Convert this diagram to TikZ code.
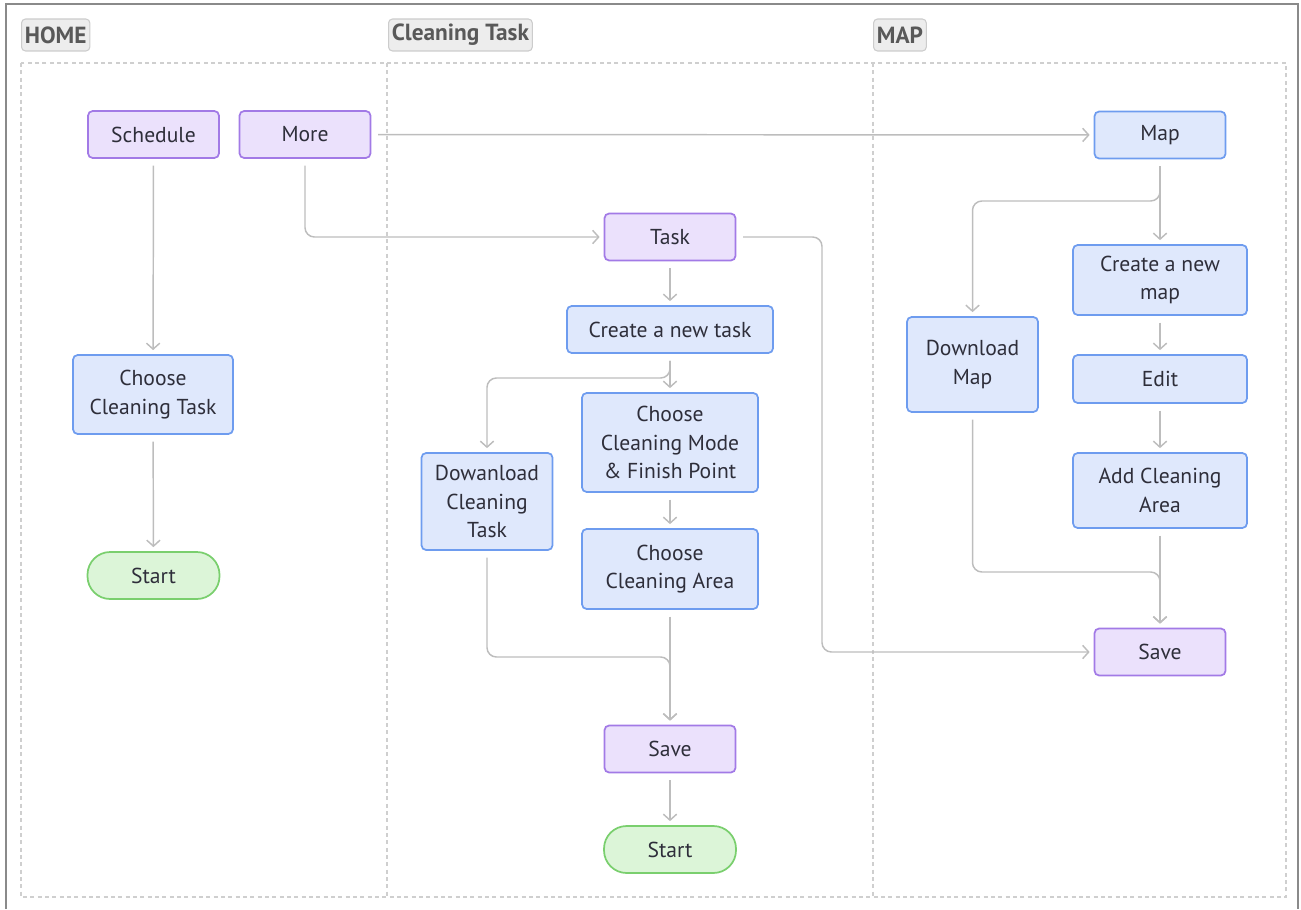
\documentclass[tikz,border=0pt]{standalone}
\usepackage{fontspec}
\setmainfont{PT Sans}
\usepackage{tikz}
\usetikzlibrary{arrows.meta}

\definecolor{purplefill}{HTML}{EBE1FC}
\definecolor{purpleline}{HTML}{A27AE6}
\definecolor{bluefill}{HTML}{DFE8FC}
\definecolor{blueline}{HTML}{6E9CEF}
\definecolor{greenfill}{HTML}{DCF5D8}
\definecolor{greenline}{HTML}{7ACF6E}
\definecolor{flowgray}{HTML}{BDBDBD}
\definecolor{tagfill}{HTML}{EDEDED}
\definecolor{tagline}{HTML}{CCCCCC}
\definecolor{lanegray}{HTML}{CFCFCF}
\definecolor{framegray}{HTML}{8A8A8A}
\definecolor{textdark}{HTML}{2E2E3A}

\tikzset{
  stepnode/.style={draw, line width=1.3pt, rounded corners=3.5pt, text=textdark,
    font=\fontsize{16.2}{21.5}\selectfont, align=center, inner sep=0pt},
  purplebox/.style={stepnode, fill=purplefill, draw=purpleline},
  bluebox/.style={stepnode, fill=bluefill, draw=blueline},
  startbox/.style={stepnode, fill=greenfill, draw=greenline, rounded corners=17pt,
    minimum width=99pt, minimum height=35.25pt},
  smallbox/.style={minimum width=98.25pt, minimum height=35.25pt},
  lanetag/.style={fill=tagfill, draw=tagline, line width=0.8pt, rounded corners=3pt,
    text=black!65, font=\fontsize{17.5}{20}\selectfont\bfseries, anchor=west,
    minimum height=24pt, inner xsep=2.5pt},
  lane/.style={draw=lanegray, line width=0.8pt, dash pattern=on 3pt off 2.5pt},
  flow/.style={draw=flowgray, line width=1.1pt, rounded corners=7pt,
    -{Straight Barb[length=4.5pt,width=10pt]}, shorten <=5pt, shorten >=3pt},
}

\begin{document}
\begin{tikzpicture}[x=0.75pt,y=0.75pt,yscale=-1,xscale=1]
\useasboundingbox (0,0) rectangle (1301,909);

% frame and lanes
\draw[framegray, line width=1.5pt] (6,909) -- (6,4) -- (1298,4) -- (1298,909);
\draw[lane] (21,63) rectangle (1286,897);
\draw[lane] (387,63) -- (387,897);
\draw[lane] (873,63) -- (873,897);

% lane titles
\node[lanetag] (homeTag) at (21,35) {HOME};
\node[lanetag] (taskTag) at (388,35) {Cleaning Task};
\node[lanetag] (mapTag) at (873,35) {MAP};

% HOME
\node[purplebox, smallbox] (schedule) at (153.5,134.5) {Schedule};
\node[purplebox, smallbox] (more) at (305,134.5) {More};
\node[bluebox, minimum width=120pt, minimum height=59.25pt] (chooseTask) at (153,394.5) {Choose\\Cleaning Task};
\node[startbox] (homeStart) at (153.5,575.5) {Start};

% Cleaning Task
\node[purplebox, smallbox] (task) at (670,237) {Task};
\node[bluebox, minimum width=154.5pt, minimum height=35.25pt] (newTask) at (670,329.5) {Create a new task};
\node[bluebox, minimum width=132pt, minimum height=74.25pt] (chooseMode) at (670,442.5) {Choose\\Cleaning Mode\\\& Finish Point};
\node[bluebox, minimum width=98.25pt, minimum height=72.75pt] (dlTask) at (487,501.5) {Dowanload\\Cleaning\\Task};
\node[bluebox, minimum width=132pt, minimum height=60pt] (chooseArea) at (670,569) {Choose\\Cleaning Area};
\node[purplebox, smallbox] (taskSave) at (670,749) {Save};
\node[startbox] (taskStart) at (670,849.5) {Start};

% MAP
\node[bluebox, smallbox] (map) at (1160,135) {Map};
\node[bluebox, minimum width=130.5pt, minimum height=52.5pt] (newMap) at (1160,280) {Create a new\\map};
\node[bluebox, minimum width=130.5pt, minimum height=36pt] (edit) at (1160,379) {Edit};
\node[bluebox, minimum width=130.5pt, minimum height=56.25pt] (addArea) at (1160,490.5) {Add Cleaning\\Area};
\node[bluebox, minimum width=98.25pt, minimum height=71.25pt] (dlMap) at (972.5,364.5) {Download\\Map};
\node[purplebox, smallbox] (mapSave) at (1160,652) {Save};

% turning points
\coordinate (taskTurn) at (822,237);
\coordinate (taskSplit) at (670,378);
\coordinate (taskJoin) at (670,657);
\coordinate (mapSplit) at (1160,201);
\coordinate (mapJoin) at (1160,572);

% connectors
\draw[flow] (schedule) -- (chooseTask);
\draw[flow] (chooseTask) -- (homeStart);
\draw[flow] (more) -- (map);
\draw[flow] (more.south) |- (task.west);
\draw[flow] (task) -- (newTask);
\draw[flow] (task.east) -- (taskTurn) |- (mapSave.west);
\draw[flow] (newTask) -- (chooseMode);
\draw[flow] (newTask.south) -- (taskSplit) -| (dlTask.north);
\draw[flow] (chooseMode) -- (chooseArea);
\draw[flow] (chooseArea) -- (taskSave);
\draw[flow] (dlTask.south) |- (taskJoin) -- (taskSave.north);
\draw[flow] (taskSave) -- (taskStart);
\draw[flow] (map) -- (newMap);
\draw[flow] (map.south) -- (mapSplit) -| (dlMap.north);
\draw[flow] (newMap) -- (edit);
\draw[flow] (edit) -- (addArea);
\draw[flow] (addArea) -- (mapSave);
\draw[flow] (dlMap.south) |- (mapJoin) -- (mapSave.north);

\end{tikzpicture}
\end{document}
